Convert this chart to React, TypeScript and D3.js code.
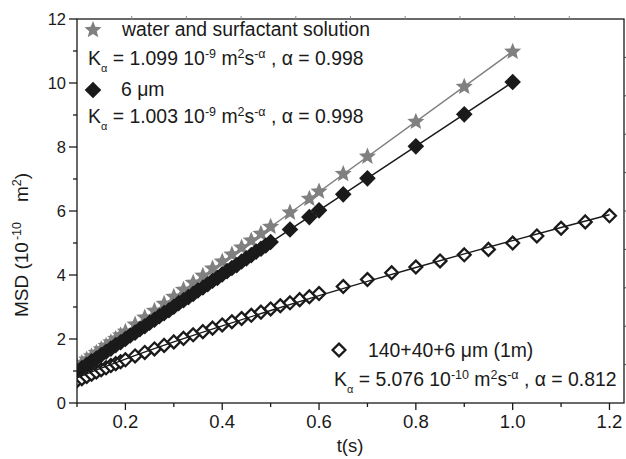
import React from "react";
import * as d3 from "d3";

// ---------- data ----------
const starT = [0.10,0.11,0.12,0.13,0.14,0.15,0.16,0.17,0.18,0.19,0.20,0.22,0.24,0.26,0.28,0.30,0.32,0.34,0.36,0.38,0.40,0.42,0.44,0.46,0.48,0.50,0.54,0.58,0.60,0.65,0.70,0.80,0.90,1.00];
const starMSD = [1.15,1.25,1.36,1.46,1.57,1.68,1.79,1.90,2.01,2.12,2.23,2.45,2.67,2.88,3.10,3.32,3.54,3.76,3.98,4.20,4.42,4.64,4.86,5.08,5.29,5.51,5.95,6.38,6.61,7.16,7.70,8.79,9.88,10.98];

const blackT = [0.10,0.11,0.12,0.13,0.14,0.15,0.16,0.17,0.18,0.19,0.20,0.21,0.22,0.23,0.24,0.25,0.26,0.27,0.28,0.29,0.30,0.31,0.32,0.33,0.34,0.35,0.36,0.37,0.38,0.39,0.40,0.41,0.42,0.43,0.44,0.45,0.46,0.47,0.48,0.49,0.50,0.54,0.58,0.60,0.65,0.70,0.80,0.90,1.00];
const blackMSD = [0.98,1.09,1.19,1.30,1.39,1.50,1.60,1.70,1.81,1.90,2.00,2.11,2.20,2.31,2.40,2.51,2.60,2.71,2.81,2.90,3.01,3.12,3.21,3.31,3.41,3.52,3.61,3.71,3.82,3.91,4.02,4.12,4.22,4.31,4.42,4.52,4.62,4.73,4.82,4.92,5.03,5.42,5.81,6.02,6.52,7.02,8.02,9.02,10.03];

const openT = [0.10,0.11,0.12,0.13,0.14,0.15,0.16,0.17,0.18,0.19,0.20,0.22,0.24,0.26,0.28,0.30,0.32,0.34,0.36,0.38,0.40,0.42,0.44,0.46,0.48,0.50,0.52,0.54,0.56,0.58,0.60,0.65,0.70,0.75,0.80,0.85,0.90,0.95,1.00,1.05,1.10,1.15,1.20];
const openMSD = [0.70,0.76,0.83,0.90,0.97,1.04,1.10,1.17,1.23,1.29,1.35,1.47,1.58,1.69,1.80,1.91,2.02,2.13,2.23,2.34,2.44,2.54,2.64,2.74,2.84,2.94,3.04,3.13,3.23,3.32,3.42,3.64,3.86,4.07,4.25,4.44,4.63,4.80,5.00,5.22,5.46,5.66,5.85];

// fitted curves (power-law fits as printed in the legend)
const starFitT = [0.1, 0.5, 1.0];
const starFitMSD = [1.104, 5.50, 10.99];
const blackFitT = [0.1, 0.5, 1.0];
const blackFitMSD = [1.008, 5.02, 10.03];
const openFitT = [0.1,0.15,0.2,0.3,0.4,0.5,0.6,0.7,0.8,0.9,1.0,1.1,1.2];
const openFitMSD = [0.783,1.088,1.374,1.910,2.412,2.891,3.353,3.800,4.235,4.660,5.076,5.485,5.886];

const xTicks = [0.2, 0.4, 0.6, 0.8, 1.0, 1.2];
const xMinorTicks = [0.1, 0.3, 0.5, 0.7, 0.9, 1.1];
const yTicks = [0, 2, 4, 6, 8, 10, 12];
const yMinorTicks = [1, 3, 5, 7, 9, 11];

// ---------- layout ----------
const W = 626, H = 459;
const L = 77, R = 624, T = 19, B = 403;
const FONT = "'Liberation Sans', Arial, Helvetica, sans-serif";
const GRAY = "#808080";
const INK = "#1a1a1a";
const LEG = 19.4;

const x = d3.scaleLinear().domain([0.1, 1.23]).range([L, R]);
const y = d3.scaleLinear().domain([0, 12]).range([B, T]);
const topAux = d3.scaleLinear().domain([0, 10]).range([L, R]);
const rightAux = d3.scaleLinear().domain([0, 10]).range([B, T]);

function starPath(Ro: number, Ri: number) {
  const pts: [number, number][] = [];
  for (let i = 0; i < 10; i++) {
    const a = -Math.PI / 2 + (i * Math.PI) / 5;
    const r = i % 2 === 0 ? Ro : Ri;
    pts.push([r * Math.cos(a), r * Math.sin(a)]);
  }
  return "M" + pts.map((p) => p[0].toFixed(2) + "," + p[1].toFixed(2)).join("L") + "Z";
}
function diamondPath(h: number) {
  return `M0,${-h}L${h},0L0,${h}L${-h},0Z`;
}
const STAR = starPath(9, 4);
const DIAM = diamondPath(8.3);
const ODIAM = diamondPath(6.4);

const line = d3
  .line<[number, number]>()
  .x((d) => x(d[0]))
  .y((d) => y(d[1]))
  .curve(d3.curveMonotoneX);

const zip = (a: number[], b: number[]) => a.map((v, i) => [v, b[i]] as [number, number]);

function KText({ xPos, yPos, value, exp, alpha }: { xPos: number; yPos: number; value: string; exp: string; alpha: string }) {
  return (
    <text x={xPos} y={yPos} fontSize={LEG} fill={INK} fontFamily={FONT}>
      K
      <tspan dy={7} fontSize={11}>α</tspan>
      <tspan dy={-7}>{" = " + value + " 10"}</tspan>
      <tspan dy={-7} fontSize={12.5}>{exp}</tspan>
      <tspan dy={7}>{" m"}</tspan>
      <tspan dy={-7} fontSize={12.5}>2</tspan>
      <tspan dy={7}>s</tspan>
      <tspan dy={-7} fontSize={12.5}>-α</tspan>
      <tspan dy={7}>{" , α = " + alpha}</tspan>
    </text>
  );
}

export default function App() {
  return (
    <svg width={W} height={H} style={{ position: "absolute", left: 0, top: 0, background: "#fff" }}>
      <defs>
        <clipPath id="plot">
          <rect x={L} y={T} width={R - L} height={B - T} />
        </clipPath>
      </defs>
      <rect x={0} y={0} width={W} height={H} fill="#fff" />

      <g clipPath="url(#plot)">
        {zip(starT, starMSD).map((d, i) => (
          <path key={"s" + i} d={STAR} transform={`translate(${x(d[0])},${y(d[1])})`} fill={GRAY} />
        ))}
        <path d={line(zip(starFitT, starFitMSD)) || ""} fill="none" stroke={GRAY} strokeWidth={1.5} />
        {zip(blackT, blackMSD).map((d, i) => (
          <path key={"b" + i} d={DIAM} transform={`translate(${x(d[0])},${y(d[1])})`} fill={INK} />
        ))}
        <path d={line(zip(blackFitT, blackFitMSD)) || ""} fill="none" stroke={INK} strokeWidth={1.5} />
        {zip(openT, openMSD).map((d, i) => (
          <path key={"o" + i} d={ODIAM} transform={`translate(${x(d[0])},${y(d[1])})`} fill="#fff" stroke={INK} strokeWidth={2.3} />
        ))}
        <path d={line(zip(openFitT, openFitMSD)) || ""} fill="none" stroke={INK} strokeWidth={1.4} />
      </g>

      <rect x={L} y={T} width={R - L} height={B - T} fill="none" stroke={INK} strokeWidth={1.3} />

      {xTicks.map((t) => (
        <g key={"xt" + t}>
          <line x1={x(t)} x2={x(t)} y1={B} y2={B + 7} stroke={INK} strokeWidth={1.3} />
          <text x={x(t)} y={428} textAnchor="middle" fontSize={18.5} fontFamily={FONT} fill={INK}>
            {t.toFixed(1)}
          </text>
        </g>
      ))}
      {xMinorTicks.map((t) => (
        <line key={"xm" + t} x1={x(t)} x2={x(t)} y1={B} y2={B + 4} stroke={INK} strokeWidth={1.3} />
      ))}

      {yTicks.map((t) => (
        <g key={"yt" + t}>
          <line x1={L - 8} x2={L} y1={y(t)} y2={y(t)} stroke={INK} strokeWidth={1.3} />
          <text x={66} y={y(t) + 6} textAnchor="end" fontSize={16.5} fontFamily={FONT} fill={INK}>
            {t}
          </text>
        </g>
      ))}
      {yMinorTicks.map((t) => (
        <line key={"ym" + t} x1={L - 4} x2={L} y1={y(t)} y2={y(t)} stroke={INK} strokeWidth={1.3} />
      ))}

      {d3.range(1, 10).map((k) => (
        <line key={"ta" + k} x1={topAux(k)} x2={topAux(k)} y1={T} y2={T - 3} stroke="#888" strokeWidth={1} />
      ))}
      {d3.range(1, 10).map((k) => (
        <line key={"ra" + k} x1={R} x2={R + 3} y1={rightAux(k)} y2={rightAux(k)} stroke="#444" strokeWidth={1} />
      ))}

      <text x={350} y={452} textAnchor="middle" fontSize={18.5} fontFamily={FONT} fill={INK}>
        t(s)
      </text>
      <text transform="translate(28,245) rotate(-90)" textAnchor="middle" fontSize={19} fontFamily={FONT} fill={INK}>
        MSD (10
        <tspan dy={-7} dx={2} fontSize={12.5}>-10</tspan>
        <tspan dy={7} dx={20}>m</tspan>
        <tspan dy={-7} fontSize={12.5}>2</tspan>
        <tspan dy={7}>)</tspan>
      </text>

      <path d={STAR} transform="translate(93,30)" fill={GRAY} />
      <text x={122} y={36} fontSize={LEG} fontFamily={FONT} fill={INK}>
        water and surfactant solution
      </text>
      <KText xPos={88} yPos={65} value="1.099" exp="-9" alpha="0.998" />
      <path d={DIAM} transform="translate(93,90)" fill={INK} />
      <text x={121} y={96} fontSize={LEG} fontFamily={FONT} fill={INK}>
        6 μm
      </text>
      <KText xPos={88} yPos={123} value="1.003" exp="-9" alpha="0.998" />

      <path d={ODIAM} transform="translate(339,350)" fill="#fff" stroke={INK} strokeWidth={2.3} />
      <text x={368} y={357} fontSize={LEG} fontFamily={FONT} fill={INK}>
        140+40+6 μm (1m)
      </text>
      <KText xPos={334} yPos={386} value="5.076" exp="-10" alpha="0.812" />
    </svg>
  );
}
